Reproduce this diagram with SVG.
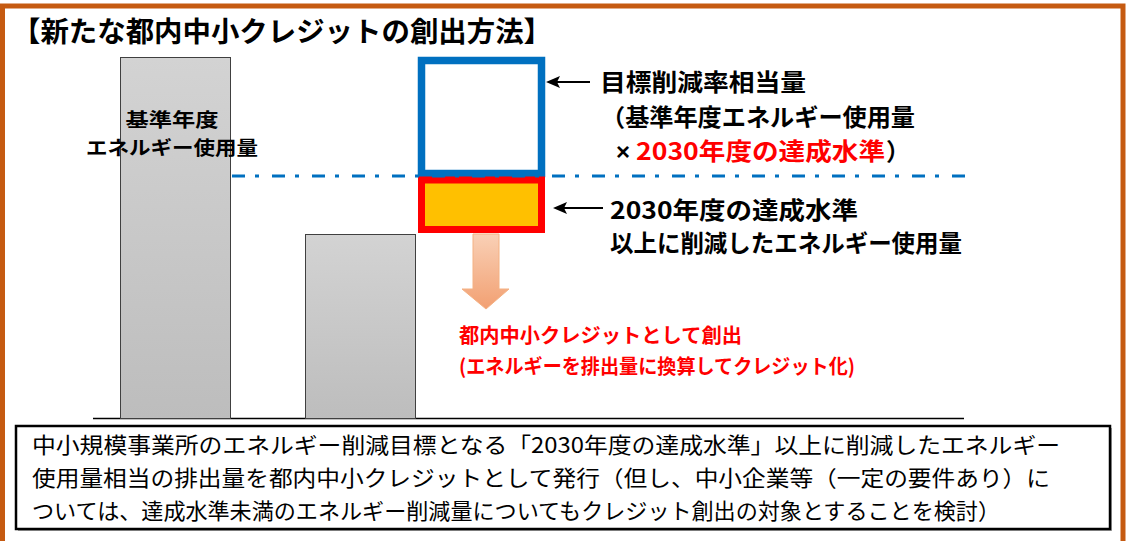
<svg xmlns="http://www.w3.org/2000/svg" width="1127" height="541" viewBox="0 0 1127 541">
<defs>
<style>
.t{font-family:"Noto Sans CJK JP","Noto Sans CJK SC",sans-serif;}
.b{font-weight:700;}
.k{fill:#000;}
.r{fill:#FF0000;}
.bar{stroke:#404040;stroke-width:1;fill:url(#barG);}
.ptr{stroke:#000;stroke-width:2;}
.head{fill:#000;}
</style>
<linearGradient id="barG" x1="0" y1="0" x2="0" y2="1">
<stop offset="0" stop-color="#D3D3D3"/>
<stop offset="1" stop-color="#BDBDBD"/>
</linearGradient>
<linearGradient id="arrG" x1="0" y1="0" x2="0" y2="1">
<stop offset="0" stop-color="#F9D0B6"/>
<stop offset="1" stop-color="#F2A072"/>
</linearGradient>
</defs>
<rect width="1127" height="541" fill="#fff"/>
<g id="frame">
<rect x="2.5" y="6" width="1120.5" height="580" fill="none" stroke="#C55A11" stroke-width="5"/>
</g>
<g id="title">
<text class="t b k" x="12" y="42" font-size="28" textLength="540" lengthAdjust="spacingAndGlyphs">【新たな都内中小クレジットの創出方法】</text>
</g>
<g id="baseline">
<line x1="93" y1="418.5" x2="964" y2="418.5" stroke="#000" stroke-width="1.5"/>
</g>
<g id="bar-base">
<rect class="bar" x="120.5" y="57.5" width="110" height="361"/>
<text class="t b k" x="172" y="127" font-size="19" text-anchor="middle" textLength="93" lengthAdjust="spacingAndGlyphs">基準年度</text>
<text class="t b k" x="172" y="155" font-size="19" text-anchor="middle" textLength="172" lengthAdjust="spacingAndGlyphs">エネルギー使用量</text>
</g>
<g id="bar-2030">
<rect class="bar" x="305.5" y="234.5" width="110" height="184"/>
</g>
<g id="target-box">
<rect x="421.5" y="60.5" width="120" height="113" fill="#fff" stroke="#0070C0" stroke-width="7.5"/>
</g>
<g id="over-box">
<rect x="421.5" y="180" width="120" height="49.5" fill="#FFC000" stroke="#FF0000" stroke-width="7"/>
</g>
<g id="connectors">
<line x1="232" y1="176" x2="970" y2="176" stroke="#0070C0" stroke-width="3" stroke-dasharray="13 10 4 13"/>
<line class="ptr" x1="590" y1="82" x2="555" y2="82"/>
<polygon class="head" points="546,82 560,76 557,82 560,88"/>
<line class="ptr" x1="603" y1="208" x2="562" y2="208"/>
<polygon class="head" points="553,208 567,202 564,208 567,214"/>
<path d="M473 234 H499 V289 H509 L486 309 L462 289 H473 Z" fill="url(#arrG)" stroke="#F4B183" stroke-width="1"/>
</g>
<g id="label-target">
<text class="t b k" x="600" y="91" font-size="24" textLength="206" lengthAdjust="spacingAndGlyphs">目標削減率相当量</text>
<text class="t b k" x="601" y="126" font-size="24" textLength="314" lengthAdjust="spacingAndGlyphs">（基準年度エネルギー使用量</text>
<text class="k" x="616" y="160" font-size="24" font-family="'Liberation Sans', sans-serif" font-weight="700">×</text>
<text class="t b r" x="636" y="160" font-size="24" textLength="249" lengthAdjust="spacingAndGlyphs">2030年度の達成水準</text>
<text class="t b k" x="886" y="160" font-size="24">）</text>
</g>
<g id="label-over">
<text class="t b k" x="610" y="219" font-size="24" textLength="248" lengthAdjust="spacingAndGlyphs">2030年度の達成水準</text>
<text class="t b k" x="610" y="252" font-size="24" textLength="352" lengthAdjust="spacingAndGlyphs">以上に削減したエネルギー使用量</text>
</g>
<g id="label-credit">
<text class="t b r" x="459" y="343" font-size="20" textLength="283" lengthAdjust="spacingAndGlyphs">都内中小クレジットとして創出</text>
<text class="t b r" x="459" y="374" font-size="20" textLength="396" lengthAdjust="spacingAndGlyphs">(エネルギーを排出量に換算してクレジット化)</text>
</g>
<g id="note">
<rect x="18" y="428" width="1094" height="103" fill="#A6A6A6"/>
<rect x="16" y="426" width="1094" height="103" fill="#fff" stroke="#000" stroke-width="2.5"/>
<text class="t k" x="32" y="453" font-size="22" textLength="1028" lengthAdjust="spacingAndGlyphs">中小規模事業所のエネルギー削減目標となる「2030年度の達成水準」以上に削減したエネルギー</text>
<text class="t k" x="32" y="486" font-size="22" textLength="1018" lengthAdjust="spacingAndGlyphs">使用量相当の排出量を都内中小クレジットとして発行（但し、中小企業等（一定の要件あり）に</text>
<text class="t k" x="32" y="519" font-size="22" textLength="968" lengthAdjust="spacingAndGlyphs">ついては、達成水準未満のエネルギー削減量についてもクレジット創出の対象とすることを検討）</text>
</g>
</svg>
